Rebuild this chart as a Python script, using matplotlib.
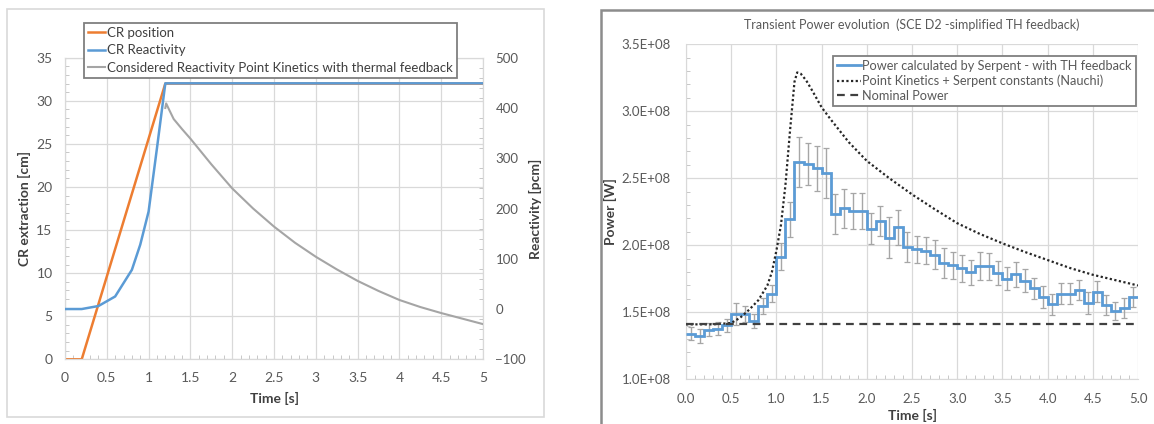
import numpy as np
import matplotlib
matplotlib.use("Agg")
import matplotlib.pyplot as plt
from matplotlib.patches import Rectangle
from matplotlib.ticker import MultipleLocator, FuncFormatter

plt.rcParams['font.family'] = ['Lato', 'DejaVu Sans']

# ---------------- Left chart data ----------------
cr_pos_t = [0.0, 0.2, 1.2, 5.0]
cr_pos_cm = [0.0, 0.0, 32.0, 32.0]

cr_react_t = [0.0, 0.2, 0.4, 0.6, 0.8, 0.9, 1.0, 1.1, 1.2, 5.0]
cr_react_pcm = [0, 0, 6, 25, 78, 128, 194, 320, 449, 449]

pk_react_t = [1.2, 1.21, 1.25, 1.3, 1.4, 1.5, 1.75, 2.0, 2.25, 2.5, 2.75, 3.0,
              3.25, 3.5, 3.75, 4.0, 4.25, 4.5, 4.75, 5.0]
pk_react_pcm = [400, 409, 395, 378, 358, 339, 288, 240, 200, 164, 132, 104,
                79, 56, 36, 18, 4, -8, -19, -30]

# ---------------- Right chart data ----------------
bin_edges = np.round(np.arange(0, 5.01, 0.1), 2)
serpent_power_e8 = [1.341, 1.324, 1.371, 1.379, 1.403, 1.486, 1.490, 1.436, 1.550, 1.640,
                    1.914, 2.195, 2.620, 2.606, 2.574, 2.540, 2.233, 2.275, 2.255, 2.255,
                    2.125, 2.180, 2.058, 2.133, 1.990, 1.970, 1.960, 1.930, 1.865, 1.852,
                    1.827, 1.800, 1.844, 1.844, 1.795, 1.752, 1.785, 1.735, 1.678, 1.615,
                    1.560, 1.640, 1.640, 1.665, 1.570, 1.652, 1.553, 1.510, 1.535, 1.615]
serpent_err_e8 = [0.050, 0.050, 0.050, 0.050, 0.050, 0.080, 0.060, 0.050, 0.060, 0.065,
                  0.100, 0.130, 0.187, 0.155, 0.170, 0.187, 0.150, 0.145, 0.135, 0.135,
                  0.115, 0.112, 0.150, 0.133, 0.112, 0.100, 0.100, 0.108, 0.112, 0.100,
                  0.100, 0.093, 0.105, 0.100, 0.090, 0.085, 0.093, 0.087, 0.080, 0.080,
                  0.080, 0.075, 0.075, 0.075, 0.083, 0.078, 0.075, 0.066, 0.075, 0.075]

pk_power_t = [0.0, 0.3, 0.5, 0.6, 0.7, 0.8, 0.9, 0.95, 1.0, 1.05, 1.1, 1.15, 1.2, 1.23,
              1.27, 1.33, 1.4, 1.5, 1.6, 1.8, 2.0, 2.25, 2.5, 2.75, 3.0, 3.25, 3.5,
              3.75, 4.0, 4.25, 4.5, 4.75, 5.0]
pk_power_e8 = [1.41, 1.41, 1.42, 1.46, 1.52, 1.59, 1.70, 1.80, 1.96, 2.15, 2.45, 2.85,
               3.22, 3.29, 3.28, 3.23, 3.15, 3.03, 2.94, 2.77, 2.63, 2.50, 2.38, 2.27,
               2.165, 2.085, 2.015, 1.95, 1.89, 1.83, 1.78, 1.74, 1.70]

nominal_power_e8 = 1.41

# ---------------- Figure ----------------
W, H = 1154, 424
fig = plt.figure(figsize=(W / 100, H / 100), dpi=100)
fig.patch.set_facecolor('white')


def fx(px):
    return px / W


def fy(py):
    return 1 - py / H


# frames
fig.add_artist(Rectangle((fx(6.7), fy(416.7)), fx(544) - fx(6.7), fy(9.3) - fy(416.7),
                         transform=fig.transFigure, fill=False, edgecolor='#d9d9d9', lw=1.2))
fig.add_artist(Rectangle((fx(601), fy(430)), fx(1170) - fx(601), fy(10.3) - fy(430),
                         transform=fig.transFigure, fill=False, edgecolor='#8c8c8c', lw=1.8,
                         clip_on=False))

grid_c = '#d9d9d9'
tick_c = '#595959'
lab_c = '#404040'

# ---------- Left axes ----------
axL = fig.add_axes([fx(65), fy(359.3), fx(483) - fx(65), fy(57.7) - fy(359.3)])
axR = axL.twinx()

lo, = axL.plot(cr_pos_t, cr_pos_cm, color='#ED7D31', lw=1.8, label='CR position', zorder=2)
axL.set_xlim(0, 5)
axL.set_ylim(0, 35)
axL.xaxis.set_major_locator(MultipleLocator(0.5))
axL.xaxis.set_minor_locator(MultipleLocator(0.1))
axL.yaxis.set_major_locator(MultipleLocator(5))
axL.yaxis.set_minor_locator(MultipleLocator(1))
axL.xaxis.set_major_formatter(FuncFormatter(lambda v, p: f"{v:g}"))
axL.grid(True, which='major', color=grid_c, lw=0.9)
axL.set_axisbelow(True)
axL.tick_params(which='major', length=0, labelsize=10, labelcolor=tick_c, pad=9)
axL.tick_params(which='minor', direction='in', length=3, color='#bfbfbf')
axL.tick_params(axis='x', pad=9)
for s in axL.spines.values():
    s.set_color(grid_c)
axL.set_xlabel('Time [s]', fontsize=10, fontweight='bold', color=lab_c, labelpad=6)
axL.set_ylabel('CR extraction [cm]', fontsize=10, fontweight='bold', color=lab_c, labelpad=4)

lg, = axR.plot(pk_react_t, pk_react_pcm, color='#A5A5A5', lw=1.5, zorder=2,
               label='Considered Reactivity Point Kinetics with thermal feedback')
lb, = axR.plot(cr_react_t, cr_react_pcm, color='#5B9BD5', lw=1.8, zorder=3,
               label='CR Reactivity')
axR.set_ylim(-100, 500)
axR.yaxis.set_major_locator(MultipleLocator(100))
axR.yaxis.set_minor_locator(MultipleLocator(20))
axR.tick_params(which='major', length=0, labelsize=9.5, labelcolor=tick_c, pad=9)
axR.tick_params(which='minor', direction='in', length=3, color='#bfbfbf')
for s in axR.spines.values():
    s.set_color(grid_c)
axR.set_ylabel('Reactivity [pcm]', fontsize=10, fontweight='bold', color=lab_c, labelpad=2)

legL = fig.legend(handles=[lo, lb, lg], loc='upper left',
                  bbox_to_anchor=(fx(84), fy(22.7)), bbox_transform=fig.transFigure,
                  fontsize=9.5, frameon=True, fancybox=False, handlelength=1.3,
                  handletextpad=0.15, labelspacing=0.42, borderpad=0.3,
                  borderaxespad=0, labelcolor=lab_c)
legL.get_frame().set_edgecolor('#7f7f7f')
legL.get_frame().set_linewidth(1.3)
legL.get_frame().set_alpha(1)

# ---------- Right axes ----------
ax2 = fig.add_axes([fx(686), fy(379.3), fx(1138) - fx(686), fy(44.3) - fy(379.3)])
centers = (bin_edges[:-1] + bin_edges[1:]) / 2
vals = np.array(serpent_power_e8) * 1e8
errs = np.array(serpent_err_e8) * 1e8
ax2.errorbar(centers, vals, yerr=errs, fmt='none', ecolor='#a6a6a6', elinewidth=1.0,
             capsize=2, capthick=0.9, zorder=2)
ls = ax2.stairs(vals, bin_edges, baseline=None, color='#5B9BD5', lw=2.0, zorder=3,
                label='Power calculated by Serpent - with TH feedback')
ld, = ax2.plot(pk_power_t, np.array(pk_power_e8) * 1e8, color='#262626', lw=1.6,
               linestyle=(0, (1, 1.1)), zorder=4,
               label='Point Kinetics + Serpent constants (Nauchi)')
ln = ax2.axhline(nominal_power_e8 * 1e8, color='#404040', lw=1.6, linestyle=(0, (3.5, 2.5)),
                 zorder=4, label='Nominal Power')
ax2.set_xlim(0, 5)
ax2.set_ylim(1.0e8, 3.5e8)
ax2.xaxis.set_major_locator(MultipleLocator(0.5))
ax2.xaxis.set_minor_locator(MultipleLocator(0.1))
ax2.yaxis.set_major_locator(MultipleLocator(0.5e8))
ax2.yaxis.set_minor_locator(MultipleLocator(0.1e8))
ax2.xaxis.set_major_formatter(FuncFormatter(lambda v, p: f"{v:.1f}"))
ax2.yaxis.set_major_formatter(FuncFormatter(lambda v, p: f"{v / 1e8:.1f}E+08"))
ax2.grid(True, which='major', color=grid_c, lw=0.9)
ax2.set_axisbelow(True)
ax2.tick_params(which='major', length=0, labelsize=9.5, labelcolor=tick_c, pad=11)
ax2.tick_params(which='minor', direction='in', length=3, color='#bfbfbf')
ax2.tick_params(axis='x', pad=10)
for s in ax2.spines.values():
    s.set_color(grid_c)
ax2.spines['right'].set_visible(False)
ax2.spines['top'].set_visible(False)
ax2.set_xlabel('Time [s]', fontsize=10, fontweight='bold', color=lab_c, labelpad=3)
ax2.set_ylabel('Power [W]', fontsize=10, fontweight='bold', color=lab_c, labelpad=3)
ax2.set_title('Transient Power evolution  (SCE D2 -simplified TH feedback)', fontsize=9,
              color='#595959', pad=11)

leg2 = ax2.legend(handles=[ls, ld, ln], loc='upper left',
                  bbox_to_anchor=(fx(833), fy(55.8)), bbox_transform=fig.transFigure,
                  fontsize=9.2, frameon=True, fancybox=False, handlelength=1.9,
                  handletextpad=0.1, labelspacing=0.22, borderpad=0.3,
                  borderaxespad=0, labelcolor='#595959')
leg2.get_frame().set_edgecolor('#7f7f7f')
leg2.get_frame().set_linewidth(1.3)
leg2.get_frame().set_alpha(1)
leg2.set_zorder(10)

fig.savefig('out.png', dpi=100, facecolor='white')
